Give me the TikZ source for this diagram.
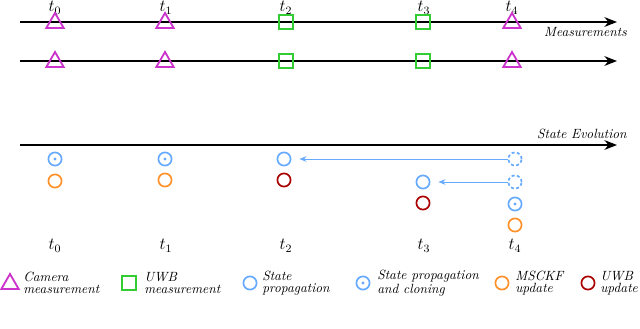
\documentclass[tikz,border=0pt]{standalone}
\usepackage{amsmath}
\usepackage{tikz}
\usetikzlibrary{shapes.geometric,arrows.meta,positioning}

\definecolor{cammag}{RGB}{204,51,204}
\definecolor{uwbgreen}{RGB}{51,204,51}
\definecolor{propblue}{RGB}{102,170,255}
\definecolor{msorange}{RGB}{255,145,40}
\definecolor{uwbred}{RGB}{170,0,0}

\begin{document}
\begin{tikzpicture}[
    x=0.025cm, y=-0.025cm,
    camtri/.style={draw=cammag, line width=1.3pt, regular polygon, regular polygon sides=3, minimum size=0.5cm, inner sep=0pt},
    uwbsq/.style={draw=uwbgreen, line width=1.2pt, rectangle, minimum size=0.34cm, inner sep=0pt},
    prop/.style={draw=propblue, line width=1.2pt, circle, minimum size=0.33cm, inner sep=0pt},
    clone/.style={prop, path picture={\fill[propblue] (path picture bounding box.center) circle (1.1pt);}},
    ghost/.style={prop, dashed, dash pattern=on 2.2pt off 1.6pt},
    msupd/.style={draw=msorange, line width=1.2pt, circle, minimum size=0.33cm, inner sep=0pt},
    uwbupd/.style={draw=uwbred, line width=1.2pt, circle, minimum size=0.33cm, inner sep=0pt},
    axis/.style={-{Stealth[length=9pt,width=7pt]}, line width=0.9pt},
    back/.style={-{Stealth[length=5pt,width=4pt]}, draw=propblue, line width=0.6pt},
    lbl/.style={font=\fontsize{9.5}{8.5}\selectfont\itshape, align=left, inner sep=0pt},
    tlbl/.style={font=\large, inner sep=0pt}
]
\useasboundingbox (0,0) rectangle (640,329);

% time axes
\coordinate (ax1s) at (20,22);  \coordinate (ax1e) at (617,22);
\coordinate (ax2s) at (20,61);  \coordinate (ax2e) at (617,61);
\coordinate (ax3s) at (20,145); \coordinate (ax3e) at (617,145);
\draw[axis] (ax1s) -- (ax1e);
\draw[axis] (ax2s) -- (ax2e);
\draw[axis] (ax3s) -- (ax3e);
\node[lbl, anchor=north east] (meas) at (627,27) {Measurements};
\node[lbl, anchor=south east] (stev) at (627,139) {State Evolution};

% time labels
\node[tlbl] (top0) at (55,8) {$t_0$};
\node[tlbl] (top1) at (166,8) {$t_1$};
\node[tlbl] (top2) at (286,8) {$t_2$};
\node[tlbl] (top3) at (424,8) {$t_3$};
\node[tlbl] (top4) at (512,8) {$t_4$};
\node[tlbl] (bot0) at (55,246) {$t_0$};
\node[tlbl] (bot1) at (166,246) {$t_1$};
\node[tlbl] (bot2) at (286,246) {$t_2$};
\node[tlbl] (bot3) at (424,246) {$t_3$};
\node[tlbl] (bot4) at (515,246) {$t_4$};

% measurements
\node[camtri] (cama0) at (55,23) {};
\node[camtri] (cama1) at (165,23) {};
\node[uwbsq] (uwba2) at (286,22) {};
\node[uwbsq] (uwba3) at (423,22) {};
\node[camtri] (cama4) at (512,23) {};
\node[camtri] (camb0) at (55,62) {};
\node[camtri] (camb1) at (165,62) {};
\node[uwbsq] (uwbb2) at (286,61) {};
\node[uwbsq] (uwbb3) at (423,61) {};
\node[camtri] (camb4) at (512,62) {};

% state evolution
\node[clone] (cl0) at (55,159) {};
\node[msupd] (ms0) at (55,181) {};
\node[clone] (cl1) at (165,159) {};
\node[msupd] (ms1) at (165,180) {};
\node[prop] (pr2) at (284,159) {};
\node[uwbupd] (up2) at (284,180) {};
\node[prop] (pr3) at (423,182) {};
\node[uwbupd] (up3) at (423,203) {};
\node[ghost] (gh4a) at (515,159) {};
\node[ghost] (gh4b) at (515,182) {};
\node[clone] (cl4) at (515,204) {};
\node[msupd] (ms4) at (515,225) {};
\draw[back] (gh4a) -- ([xshift=0.2cm]pr2.east);
\draw[back] (gh4b) -- ([xshift=0.2cm]pr3.east);

% legend
\node[camtri] (lgcam) at (10,284) {};
\node[lbl, anchor=west] (lgcamt) at (23,283) {Camera\\measurement};
\node[uwbsq] (lguwb) at (129,283) {};
\node[lbl, anchor=west] (lguwbt) at (144,283) {UWB\\measurement};
\node[prop] (lgprop) at (250,283) {};
\node[lbl, anchor=west] (lgpropt) at (262,283) {State\\propagation};
\node[clone] (lgclone) at (363,283) {};
\node[lbl, anchor=west] (lgclonet) at (377,283) {State propagation\\and cloning};
\node[msupd] (lgms) at (502,283) {};
\node[lbl, anchor=west] (lgmst) at (515,283) {MSCKF\\update};
\node[uwbupd] (lgup) at (588,283) {};
\node[lbl, anchor=west] (lgupt) at (600,283) {UWB\\update};
\end{tikzpicture}
\end{document}
